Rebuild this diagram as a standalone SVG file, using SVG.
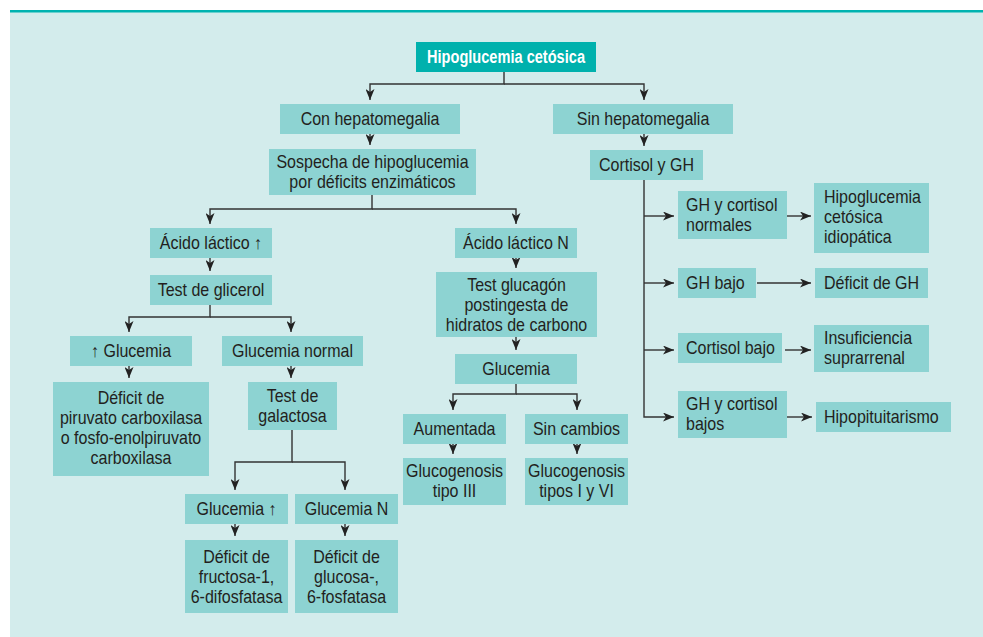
<svg xmlns="http://www.w3.org/2000/svg" width="983" height="637" viewBox="0 0 983 637">
<defs>
<style>
.bg{fill:#d3ecec}
.box{fill:#8dd3d2}
.title{fill:#00b1ad}
text{font-family:"Liberation Sans",Arial,sans-serif;font-size:18px;fill:#231f20;transform:scaleX(0.89);transform-box:fill-box;transform-origin:left center}
text.c{text-anchor:middle;transform-origin:center}
text.tt{fill:#ffffff;font-weight:bold;transform:none}
.ln{fill:none;stroke:#333333;stroke-width:1.4}
</style>
<marker id="ah" viewBox="0 0 11 9" refX="11" refY="4.5" markerWidth="11" markerHeight="9" markerUnits="userSpaceOnUse" orient="auto">
<path d="M0,0 L11,4.5 L0,9 L3,4.5 Z" fill="#222222"/>
</marker>
</defs>
<rect x="0" y="0" width="983" height="637" fill="#ffffff"/>
<rect class="bg" x="10" y="12" width="973" height="625"/>
<rect x="10" y="10" width="973" height="2.5" fill="#00b3b0"/>

<g id="connectors">
<path class="ln" d="M504,72 V84 H370 V100" marker-end="url(#ah)"/>
<path class="ln" d="M504,84 H644 V100" marker-end="url(#ah)"/>
<path class="ln" d="M370,134 V145" marker-end="url(#ah)"/>
<path class="ln" d="M644,134 V146" marker-end="url(#ah)"/>
<path class="ln" d="M372,195 V209 H210 V224" marker-end="url(#ah)"/>
<path class="ln" d="M372,209 H516 V224" marker-end="url(#ah)"/>
<path class="ln" d="M210,258 V271" marker-end="url(#ah)"/>
<path class="ln" d="M210,305 V317 H129 V332" marker-end="url(#ah)"/>
<path class="ln" d="M210,317 H291 V332" marker-end="url(#ah)"/>
<path class="ln" d="M129,366 V378" marker-end="url(#ah)"/>
<path class="ln" d="M291,366 V378" marker-end="url(#ah)"/>
<path class="ln" d="M292,430 V462 H235 V490" marker-end="url(#ah)"/>
<path class="ln" d="M292,462 H345 V490" marker-end="url(#ah)"/>
<path class="ln" d="M235,524 V536" marker-end="url(#ah)"/>
<path class="ln" d="M345,524 V536" marker-end="url(#ah)"/>
<path class="ln" d="M516,258 V268" marker-end="url(#ah)"/>
<path class="ln" d="M516,337 V350" marker-end="url(#ah)"/>
<path class="ln" d="M516,384 V394 H453 V410" marker-end="url(#ah)"/>
<path class="ln" d="M516,394 H577 V410" marker-end="url(#ah)"/>
<path class="ln" d="M453,444 V454" marker-end="url(#ah)"/>
<path class="ln" d="M577,444 V454" marker-end="url(#ah)"/>
<path class="ln" d="M644,180 V417 H674" marker-end="url(#ah)"/>
<path class="ln" d="M644,216 H674" marker-end="url(#ah)"/>
<path class="ln" d="M644,283 H674" marker-end="url(#ah)"/>
<path class="ln" d="M644,350 H674" marker-end="url(#ah)"/>
<path class="ln" d="M787,216 H811" marker-end="url(#ah)"/>
<path class="ln" d="M757,283 H811" marker-end="url(#ah)"/>
<path class="ln" d="M785,350 H811" marker-end="url(#ah)"/>
<path class="ln" d="M787,417 H812" marker-end="url(#ah)"/>
</g>

<g id="n-title"><rect class="title" x="416" y="42" width="180" height="30"/><text class="c tt" x="506" y="63" textLength="158" lengthAdjust="spacingAndGlyphs">Hipoglucemia cetósica</text></g>
<g id="n-con"><rect class="box" x="280" y="104" width="180" height="30"/><text class="c" x="370" y="125">Con hepatomegalia</text></g>
<g id="n-sin"><rect class="box" x="553" y="104" width="180" height="30"/><text class="c" x="643" y="125">Sin hepatomegalia</text></g>
<g id="n-sospecha"><rect class="box" x="269" y="149" width="207" height="46"/><text class="c" x="372.5" y="168">Sospecha de hipoglucemia</text><text class="c" x="372.5" y="188">por déficits enzimáticos</text></g>
<g id="n-cortisol"><rect class="box" x="590" y="150" width="113" height="30"/><text class="c" x="646.5" y="171">Cortisol y GH</text></g>
<g id="n-acido-up"><rect class="box" x="150" y="228" width="122" height="30"/><text class="c" x="211" y="249">Ácido láctico ↑</text></g>
<g id="n-glicerol"><rect class="box" x="150" y="275" width="122" height="30"/><text class="c" x="211" y="296">Test de glicerol</text></g>
<g id="n-glucemia-up"><rect class="box" x="70" y="336" width="122" height="30"/><text class="c" x="131" y="357">↑ Glucemia</text></g>
<g id="n-glucemia-normal"><rect class="box" x="222" y="336" width="141" height="30"/><text class="c" x="292.5" y="357">Glucemia normal</text></g>
<g id="n-piruvato"><rect class="box" x="53" y="382" width="156" height="94"/><text class="c" x="131" y="404">Déficit de</text><text class="c" x="131" y="424">piruvato carboxilasa</text><text class="c" x="131" y="444">o fosfo-enolpiruvato</text><text class="c" x="131" y="464">carboxilasa</text></g>
<g id="n-galactosa"><rect class="box" x="248" y="382" width="89" height="48"/><text class="c" x="292.5" y="402.5">Test de</text><text class="c" x="292.5" y="422.5">galactosa</text></g>
<g id="n-glucemia-arr"><rect class="box" x="185" y="494" width="103" height="30"/><text class="c" x="236.5" y="515">Glucemia ↑</text></g>
<g id="n-glucemia-n"><rect class="box" x="295" y="494" width="103" height="30"/><text class="c" x="346.5" y="515">Glucemia N</text></g>
<g id="n-fructosa"><rect class="box" x="185" y="540" width="103" height="73"/><text class="c" x="236.5" y="563.5">Déficit de</text><text class="c" x="236.5" y="583.5">fructosa-1,</text><text class="c" x="236.5" y="603.5">6-difosfatasa</text></g>
<g id="n-glucosa"><rect class="box" x="295" y="540" width="103" height="73"/><text class="c" x="346.5" y="563.5">Déficit de</text><text class="c" x="346.5" y="583.5">glucosa-,</text><text class="c" x="346.5" y="603.5">6-fosfatasa</text></g>
<g id="n-acido-n"><rect class="box" x="455" y="228" width="122" height="30"/><text class="c" x="516" y="249">Ácido láctico N</text></g>
<g id="n-glucagon"><rect class="box" x="436" y="272" width="161" height="65"/><text class="c" x="516.5" y="291">Test glucagón</text><text class="c" x="516.5" y="311">postingesta de</text><text class="c" x="516.5" y="331">hidratos de carbono</text></g>
<g id="n-glucemia"><rect class="box" x="455" y="354" width="122" height="30"/><text class="c" x="516" y="375">Glucemia</text></g>
<g id="n-aumentada"><rect class="box" x="403" y="414" width="103" height="30"/><text class="c" x="454.5" y="435">Aumentada</text></g>
<g id="n-sincambios"><rect class="box" x="525" y="414" width="103" height="30"/><text class="c" x="576.5" y="435">Sin cambios</text></g>
<g id="n-tipo3"><rect class="box" x="403" y="458" width="103" height="47"/><text class="c" x="454.5" y="477.5">Glucogenosis</text><text class="c" x="454.5" y="497.5">tipo III</text></g>
<g id="n-tipo1y6"><rect class="box" x="525" y="458" width="103" height="47"/><text class="c" x="576.5" y="477.5">Glucogenosis</text><text class="c" x="576.5" y="497.5">tipos I y VI</text></g>
<g id="n-gh-normales"><rect class="box" x="678" y="191" width="109" height="48"/><text x="686" y="211">GH y cortisol</text><text x="686" y="231">normales</text></g>
<g id="n-idiopatica"><rect class="box" x="814" y="183" width="115" height="70"/><text x="824" y="203">Hipoglucemia</text><text x="824" y="223">cetósica</text><text x="824" y="243">idiopática</text></g>
<g id="n-gh-bajo"><rect class="box" x="678" y="268" width="78" height="30"/><text x="686" y="289">GH bajo</text></g>
<g id="n-deficit-gh"><rect class="box" x="815" y="268" width="113" height="30"/><text x="824" y="289">Déficit de GH</text></g>
<g id="n-cortisol-bajo"><rect class="box" x="678" y="333" width="104" height="30"/><text x="686" y="354">Cortisol bajo</text></g>
<g id="n-insuficiencia"><rect class="box" x="814" y="325" width="115" height="47"/><text x="824" y="344.5">Insuficiencia</text><text x="824" y="364.5">suprarrenal</text></g>
<g id="n-gh-bajos"><rect class="box" x="678" y="391" width="109" height="47"/><text x="686" y="410.5">GH y cortisol</text><text x="686" y="430.5">bajos</text></g>
<g id="n-hipopituitarismo"><rect class="box" x="816" y="402" width="135" height="30"/><text x="824" y="423">Hipopituitarismo</text></g>
</svg>
